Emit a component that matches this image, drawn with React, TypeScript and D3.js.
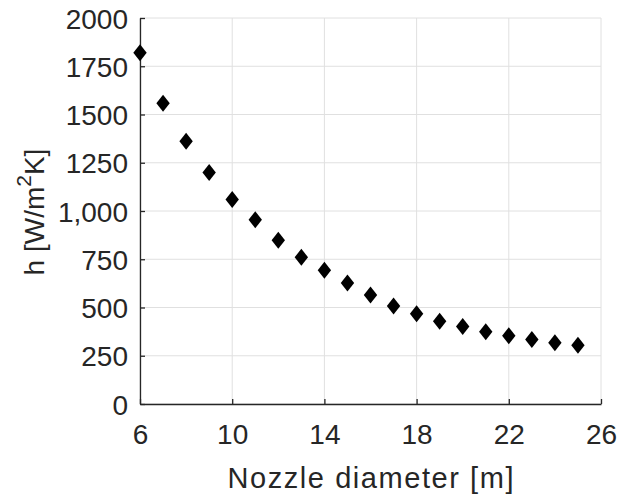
import React, { useEffect, useRef } from 'react';
import * as d3 from 'd3';

const diameters = [6, 7, 8, 9, 10, 11, 12, 13, 14, 15, 16, 17, 18, 19, 20, 21, 22, 23, 24, 25];
const hValues = [1820, 1558, 1362, 1200, 1060, 955, 848, 760, 693, 627, 565, 508, 468, 429, 401, 375, 353, 334, 317, 305];
const xTicks = [6, 10, 14, 18, 22, 26];
const yTicks = [0, 250, 500, 750, 1000, 1250, 1500, 1750, 2000];
const yTickLabels = ['0', '250', '500', '750', '1,000', '1250', '1500', '1750', '2000'];

const W = 619;
const H = 498;
const FONT = '"Liberation Sans", Arial, sans-serif';
const INK = '#262626';

export default function App() {
  const ref = useRef<SVGSVGElement>(null);

  useEffect(() => {
    const svg = d3.select(ref.current);
    svg.selectAll('*').remove();

    const margin = { top: 18, right: 18, bottom: 94, left: 140 };
    const x = d3.scaleLinear().domain([6, 26]).range([margin.left, W - margin.right]);
    const y = d3.scaleLinear().domain([0, 2000]).range([H - margin.bottom, margin.top]);

    // grid
    svg.append('g')
      .selectAll('line')
      .data(xTicks)
      .enter()
      .append('line')
      .attr('x1', d => x(d)).attr('x2', d => x(d))
      .attr('y1', y(0)).attr('y2', y(2000))
      .attr('stroke', '#e0e0e0').attr('stroke-width', 1);
    svg.append('g')
      .selectAll('line')
      .data(yTicks)
      .enter()
      .append('line')
      .attr('x1', x(6)).attr('x2', x(26))
      .attr('y1', d => y(d)).attr('y2', d => y(d))
      .attr('stroke', '#e0e0e0').attr('stroke-width', 1);

    // axes (ticks pointing inward)
    const xAxis = svg.append('g')
      .attr('transform', `translate(0,${y(0)})`)
      .call(d3.axisBottom(x).tickValues(xTicks).tickSizeInner(-5).tickSizeOuter(0).tickPadding(20));
    const yAxis = svg.append('g')
      .attr('transform', `translate(${x(6)},0)`)
      .call(d3.axisLeft(y).tickValues(yTicks).tickSizeInner(-5).tickSizeOuter(0).tickPadding(12)
        .tickFormat((d, i) => yTickLabels[i]));

    [xAxis, yAxis].forEach(g => {
      g.select('.domain').attr('stroke', INK).attr('stroke-width', 1.3);
      g.selectAll('.tick line').attr('stroke', INK).attr('stroke-width', 1.3);
      g.selectAll('.tick text')
        .attr('fill', INK)
        .style('font-family', FONT)
        .style('font-size', '28px');
    });
    xAxis.selectAll('.tick text').attr('dy', '0.71em');
    yAxis.selectAll('.tick text').attr('dy', '0.36em');

    // markers
    const diamond = 'M0,-8.5L6.7,0L0,8.5L-6.7,0Z';
    svg.append('g')
      .selectAll('path')
      .data(diameters)
      .enter()
      .append('path')
      .attr('d', diamond)
      .attr('transform', (d, i) => `translate(${x(d)},${y(hValues[i])})`)
      .attr('fill', '#000');

    // axis titles
    svg.append('text')
      .attr('x', (x(6) + x(26)) / 2)
      .attr('y', 488)
      .attr('text-anchor', 'middle')
      .attr('fill', INK)
      .attr('textLength', 286)
      .attr('lengthAdjust', 'spacing')
      .style('font-family', FONT)
      .style('font-size', '29px')
      .text('Nozzle diameter [m]');

    const yt = svg.append('text')
      .attr('transform', `translate(44,${212}) rotate(-90)`)
      .attr('text-anchor', 'middle')
      .attr('fill', INK)
      .style('font-family', FONT)
      .style('font-size', '28px');
    yt.append('tspan').text('h [W/m');
    yt.append('tspan').attr('dy', -13).style('font-size', '21px').text('2');
    yt.append('tspan').attr('dy', 13).text('K]');
  }, []);

  return (
    <div style={{ position: 'absolute', left: 0, top: 0 }}>
      <svg ref={ref} width={W} height={H} style={{ display: 'block', background: '#fff' }} />
    </div>
  );
}
